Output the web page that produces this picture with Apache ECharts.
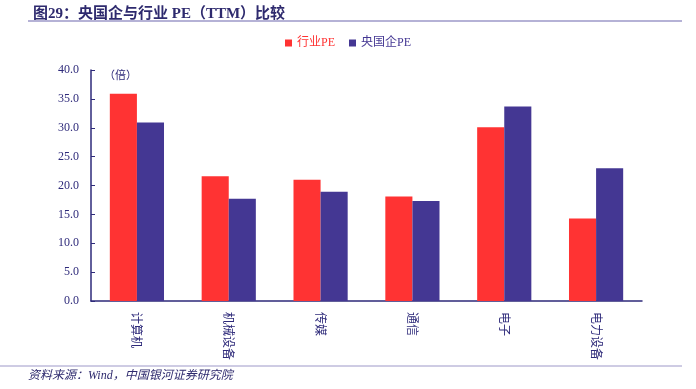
<!DOCTYPE html>
<html><head><meta charset="utf-8">
<script src="https://cdn.jsdelivr.net/npm/echarts@6/dist/echarts.min.js"></script>
<style>html,body{margin:0;padding:0;background:#fff}#c{width:696px;height:389px}</style>
</head><body><div id="c"></div>
<script>
const categories = ['计算机','机械设备','传媒','通信','电子','电力设备'];
const industryPE = [35.9, 21.6, 21.0, 18.1, 30.1, 14.3];
const soePE = [30.9, 17.7, 18.9, 17.3, 33.7, 23.0];
const seriesNames = ['行业PE','央国企PE'];
const yTicks = {min:0, max:40, interval:5};

const navy = '#2e2a7a';
const chart = echarts.init(document.getElementById('c'));
chart.setOption({
  animation:false,
  textStyle:{fontFamily:'"Liberation Serif","Noto Sans CJK SC",serif'},
  title:{text:'图29：央国企与行业 PE（TTM）比较', left:28, top:2,
    textStyle:{fontSize:15, fontWeight:'bold', color:'#2e2a6e', fontFamily:'"Liberation Serif","Noto Sans CJK SC",serif'}},
  graphic:[
    {type:'line', shape:{x1:28,y1:21,x2:682,y2:21}, style:{stroke:'#9d98c8', lineWidth:1.5}},
    {type:'line', shape:{x1:0,y1:366,x2:682,y2:366}, style:{stroke:'#9d98c8', lineWidth:1}},
    {type:'text', left:28, top:370, style:{text:'资料来源：Wind，中国银河证券研究院', fill:'#2e2a6e', fontSize:12, fontStyle:'italic', fontFamily:'"Liberation Serif","Noto Sans CJK SC",serif'}},
    {type:'text', left:104, top:69, style:{text:'（倍）', fill:navy, fontSize:11, fontFamily:'"Noto Sans CJK SC",serif'}}
  ],
  legend:{top:32, left:'center', itemWidth:7, itemHeight:7, itemGap:14, icon:'rect',
    data:[{name:seriesNames[0], textStyle:{color:'#ff3333'}},{name:seriesNames[1], textStyle:{color:'#443793'}}],
    textStyle:{fontSize:12, fontFamily:'"Liberation Serif","Noto Sans CJK SC",serif'}},
  grid:{left:91, right:54, top:70, bottom:88, containLabel:false},
  xAxis:{type:'category', data:categories,
    axisLine:{lineStyle:{color:navy, width:1.5}},
    axisTick:{inside:true, length:4, lineStyle:{color:navy}},
    axisLabel:{rotate:-90, color:navy, fontSize:12, margin:11, fontFamily:'"Noto Sans CJK SC",serif'}},
  yAxis:{type:'value', min:yTicks.min, max:yTicks.max, interval:yTicks.interval,
    splitLine:{show:false},
    axisLine:{show:true, lineStyle:{color:navy, width:1.5}},
    axisTick:{show:true, inside:true, length:4, lineStyle:{color:navy}},
    axisLabel:{color:navy, fontSize:12, margin:12, formatter:v=>v.toFixed(1)}},
  series:[
    {name:seriesNames[0], type:'bar', data:industryPE, barGap:'0%', barCategoryGap:'41%', itemStyle:{color:'#ff3333'}},
    {name:seriesNames[1], type:'bar', data:soePE, itemStyle:{color:'#443793'}}
  ]
});
</script></body></html>
